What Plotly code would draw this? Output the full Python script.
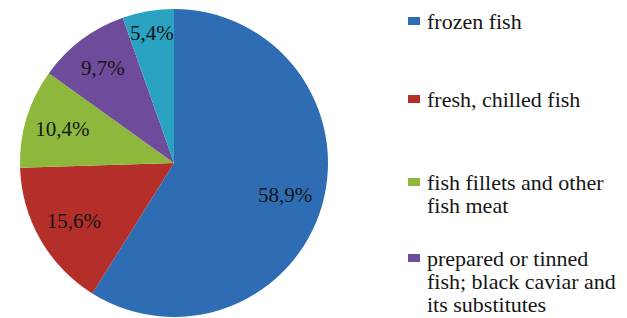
import plotly.graph_objects as go

W, H = 627, 318

categories = [
    "frozen fish",
    "fresh, chilled fish",
    "fish fillets and other<br>fish meat",
    "prepared or tinned<br>fish; black caviar and<br>its substitutes",
    "other fish products",
]
shares = [58.9, 15.6, 10.4, 9.7, 5.4]
share_text = ["58,9%", "15,6%", "10,4%", "9,7%", "5,4%"]
colors = ["#2E6DB4", "#B52F2A", "#8DB83B", "#6F4B9B", "#2AA2C2"]
legend_shown = [True, True, True, True, False]

FONT = "Liberation Serif"
TXT = "#151515"

fig = go.Figure()

cx, cy, r = 174, 163, 154
dom = dict(x=[(cx - r) / W, (cx + r) / W],
           y=[(H - cy - r) / H, (H - cy + r) / H])
plain_labels = [c.replace("<br>", " ") for c in categories]

# filled pie
fig.add_trace(go.Pie(
    labels=plain_labels, values=shares,
    textinfo="none", sort=False, direction="clockwise", rotation=0,
    marker=dict(colors=colors, line=dict(width=0)),
    showlegend=False, domain=dom,
))
# transparent ring on top carrying the percentage texts further out
fig.add_trace(go.Pie(
    labels=plain_labels, values=shares, text=share_text,
    textinfo="text", textposition="inside", insidetextorientation="horizontal",
    sort=False, direction="clockwise", rotation=0, hole=0.5,
    marker=dict(colors=["rgba(0,0,0,0)"] * len(shares), line=dict(width=0)),
    textfont=dict(family=FONT, size=21, color=TXT),
    hoverinfo="skip", showlegend=False, domain=dom,
))

# legend drawn as annotations + swatches
FS = 22
item_baselines = [28, 106, 189, 265]
line_gap = 22.8
annotations = []
shapes = []
i = 0
for lab, col, show in zip(categories, colors, legend_shown):
    if not show:
        continue
    base = item_baselines[i]
    i += 1
    for k, line in enumerate(lab.split("<br>")):
        b = base + k * line_gap
        annotations.append(dict(
            x=425 / W, y=1 - (b - 20.6) / H, xref="paper", yref="paper",
            xanchor="left", yanchor="top", align="left", showarrow=False,
            text=line, font=dict(family=FONT, size=FS, color=TXT),
        ))
    shapes.append(dict(
        type="rect", xref="paper", yref="paper",
        x0=408 / W, x1=420 / W, y0=1 - (base - 3) / H, y1=1 - (base - 11) / H,
        fillcolor=col, line=dict(width=0),
    ))

fig.update_layout(
    width=W, height=H,
    margin=dict(l=0, r=0, t=0, b=0),
    paper_bgcolor="white", plot_bgcolor="white",
    uniformtext=dict(minsize=21, mode="show"),
    annotations=annotations, shapes=shapes,
)

fig.write_html("out.html", config={"displayModeBar": False},
               post_script="document.body.style.margin='0';document.body.style.overflow='hidden';")
